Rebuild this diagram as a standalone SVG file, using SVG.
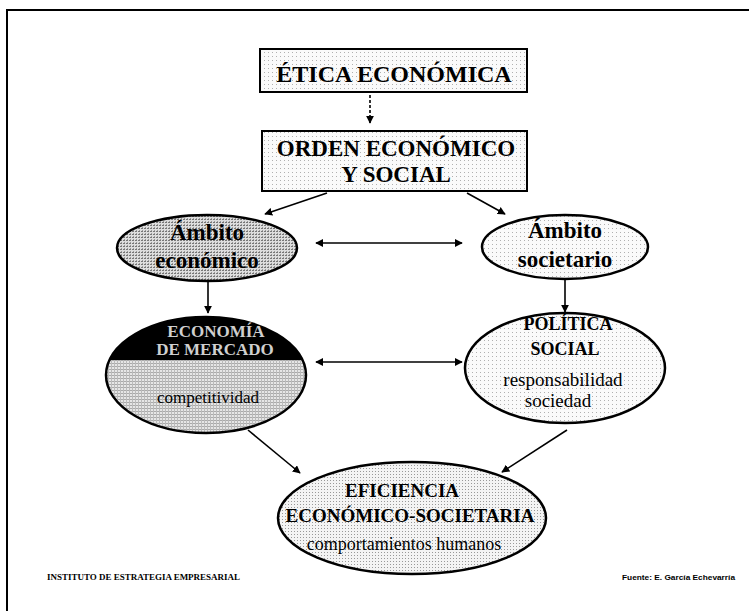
<svg xmlns="http://www.w3.org/2000/svg" width="749" height="611" viewBox="0 0 749 611">
<style>
.t{font-family:"Liberation Serif","Times New Roman",serif;font-weight:bold;fill:#000;text-anchor:middle}
.r{font-family:"Liberation Serif","Times New Roman",serif;font-weight:normal;fill:#000;text-anchor:middle}
.box{stroke:#000;stroke-width:2}
.ell{stroke:#000;stroke-width:2.5}
.con{stroke:#000;stroke-width:1.6;fill:none}
.foot{font-family:"Liberation Serif","Times New Roman",serif;font-weight:bold;font-size:8px;fill:#000}
.inv{fill:#cfcfcf}
</style>
<defs>
<pattern id="light" width="4" height="4" patternUnits="userSpaceOnUse">
<rect width="4" height="4" fill="#fafafa"/><rect x="0" y="0" width="1" height="1" fill="#b0b0b0"/>
</pattern>
<pattern id="lightd" width="3" height="3" patternUnits="userSpaceOnUse">
<rect width="3" height="3" fill="#f4f4f4"/><rect x="0" y="0" width="1" height="1" fill="#999"/>
</pattern>
<pattern id="mid" width="3" height="3" patternUnits="userSpaceOnUse">
<rect width="3" height="3" fill="#ddd"/><rect x="0" y="0" width="2" height="1" fill="#777"/><rect x="1" y="2" width="1" height="1" fill="#999"/>
</pattern>
<pattern id="grid" width="3" height="3" patternUnits="userSpaceOnUse">
<rect width="3" height="3" fill="#e6e6e6"/><rect x="0" y="0" width="3" height="1" fill="#aaa"/><rect x="0" y="0" width="1" height="3" fill="#bbb"/>
</pattern>
<marker id="ah" viewBox="0 0 10 10" refX="9" refY="5" markerWidth="8" markerHeight="8" orient="auto-start-reverse" markerUnits="userSpaceOnUse">
<path d="M0,0 L10,5 L0,10 z" fill="#000"/>
</marker>
<clipPath id="topclip"><rect x="100" y="300" width="220" height="60"/></clipPath>
<clipPath id="botclip"><rect x="100" y="360" width="220" height="90"/></clipPath>
</defs>

<path d="M7,611 L7,10 L749,10" fill="none" stroke="#000" stroke-width="2"/>

<g id="connectors">
<line class="con" x1="370" y1="95" x2="370" y2="123" stroke-dasharray="3,2" marker-end="url(#ah)"/>
<line class="con" x1="327" y1="193" x2="265" y2="214" marker-end="url(#ah)"/>
<line class="con" x1="467" y1="193" x2="505" y2="214" marker-end="url(#ah)"/>
<line class="con" x1="316" y1="243" x2="462" y2="243" marker-start="url(#ah)" marker-end="url(#ah)"/>
<line class="con" x1="208" y1="282" x2="208" y2="313" marker-end="url(#ah)"/>
<line class="con" x1="565" y1="280" x2="565" y2="312" marker-end="url(#ah)"/>
<line class="con" x1="316" y1="362" x2="462" y2="362" marker-start="url(#ah)" marker-end="url(#ah)"/>
<line class="con" x1="248" y1="430" x2="300" y2="473" marker-end="url(#ah)"/>
<line class="con" x1="567" y1="430" x2="502" y2="472" marker-end="url(#ah)"/>
</g>

<g id="etica">
<rect class="box" x="260" y="49" width="267" height="43" fill="url(#light)"/>
<text class="t" x="394" y="82" font-size="24">ÉTICA ECONÓMICA</text>
</g>

<g id="orden">
<rect class="box" x="262" y="131" width="265" height="60" fill="url(#light)"/>
<text class="t" x="396" y="156" font-size="23">ORDEN ECONÓMICO</text>
<text class="t" x="396" y="182" font-size="23">Y SOCIAL</text>
</g>

<g id="ambito-economico">
<ellipse class="ell" cx="207" cy="248" rx="90" ry="33" fill="url(#mid)"/>
<text class="t" x="207" y="240" font-size="23">Ámbito</text>
<text class="t" x="207" y="268" font-size="23">económico</text>
</g>

<g id="ambito-societario">
<ellipse class="ell" cx="565" cy="247" rx="83" ry="32" fill="url(#light)"/>
<text class="t" x="565" y="238" font-size="23">Ámbito</text>
<text class="t" x="565" y="267" font-size="23">societario</text>
</g>

<g id="economia-mercado">
<ellipse cx="206" cy="375" rx="100" ry="58" fill="#000" clip-path="url(#topclip)"/>
<ellipse cx="206" cy="375" rx="100" ry="58" fill="url(#grid)" clip-path="url(#botclip)"/>
<ellipse class="ell" cx="206" cy="375" rx="100" ry="58" fill="none"/>
<text class="t inv" x="216" y="337" font-size="17">ECONOMÍA</text>
<text class="t inv" x="215" y="355" font-size="17">DE MERCADO</text>
<text class="r" x="208" y="403" font-size="17">competitividad</text>
</g>

<g id="politica-social">
<ellipse class="ell" cx="565" cy="368" rx="100" ry="55" fill="url(#light)"/>
<text class="t" x="568" y="330" font-size="18">POLÍTICA</text>
<text class="t" x="565" y="355" font-size="18">SOCIAL</text>
<text class="r" x="563" y="386" font-size="19">responsabilidad</text>
<text class="r" x="558" y="407" font-size="19">sociedad</text>
</g>

<g id="eficiencia">
<ellipse class="ell" cx="412" cy="518" rx="134" ry="56" fill="url(#lightd)"/>
<text class="t" x="402" y="497" font-size="19">EFICIENCIA</text>
<text class="t" x="410" y="522" font-size="19">ECONÓMICO-SOCIETARIA</text>
<text class="r" x="404" y="550" font-size="18">comportamientos humanos</text>
</g>

<text class="foot" x="47" y="580" textLength="193" lengthAdjust="spacingAndGlyphs">INSTITUTO DE ESTRATEGIA EMPRESARIAL</text>
<text class="foot" x="622" y="580" textLength="113" lengthAdjust="spacingAndGlyphs" style="font-family:'Liberation Sans',Arial,sans-serif">Fuente: E. García Echevarría</text>
</svg>
